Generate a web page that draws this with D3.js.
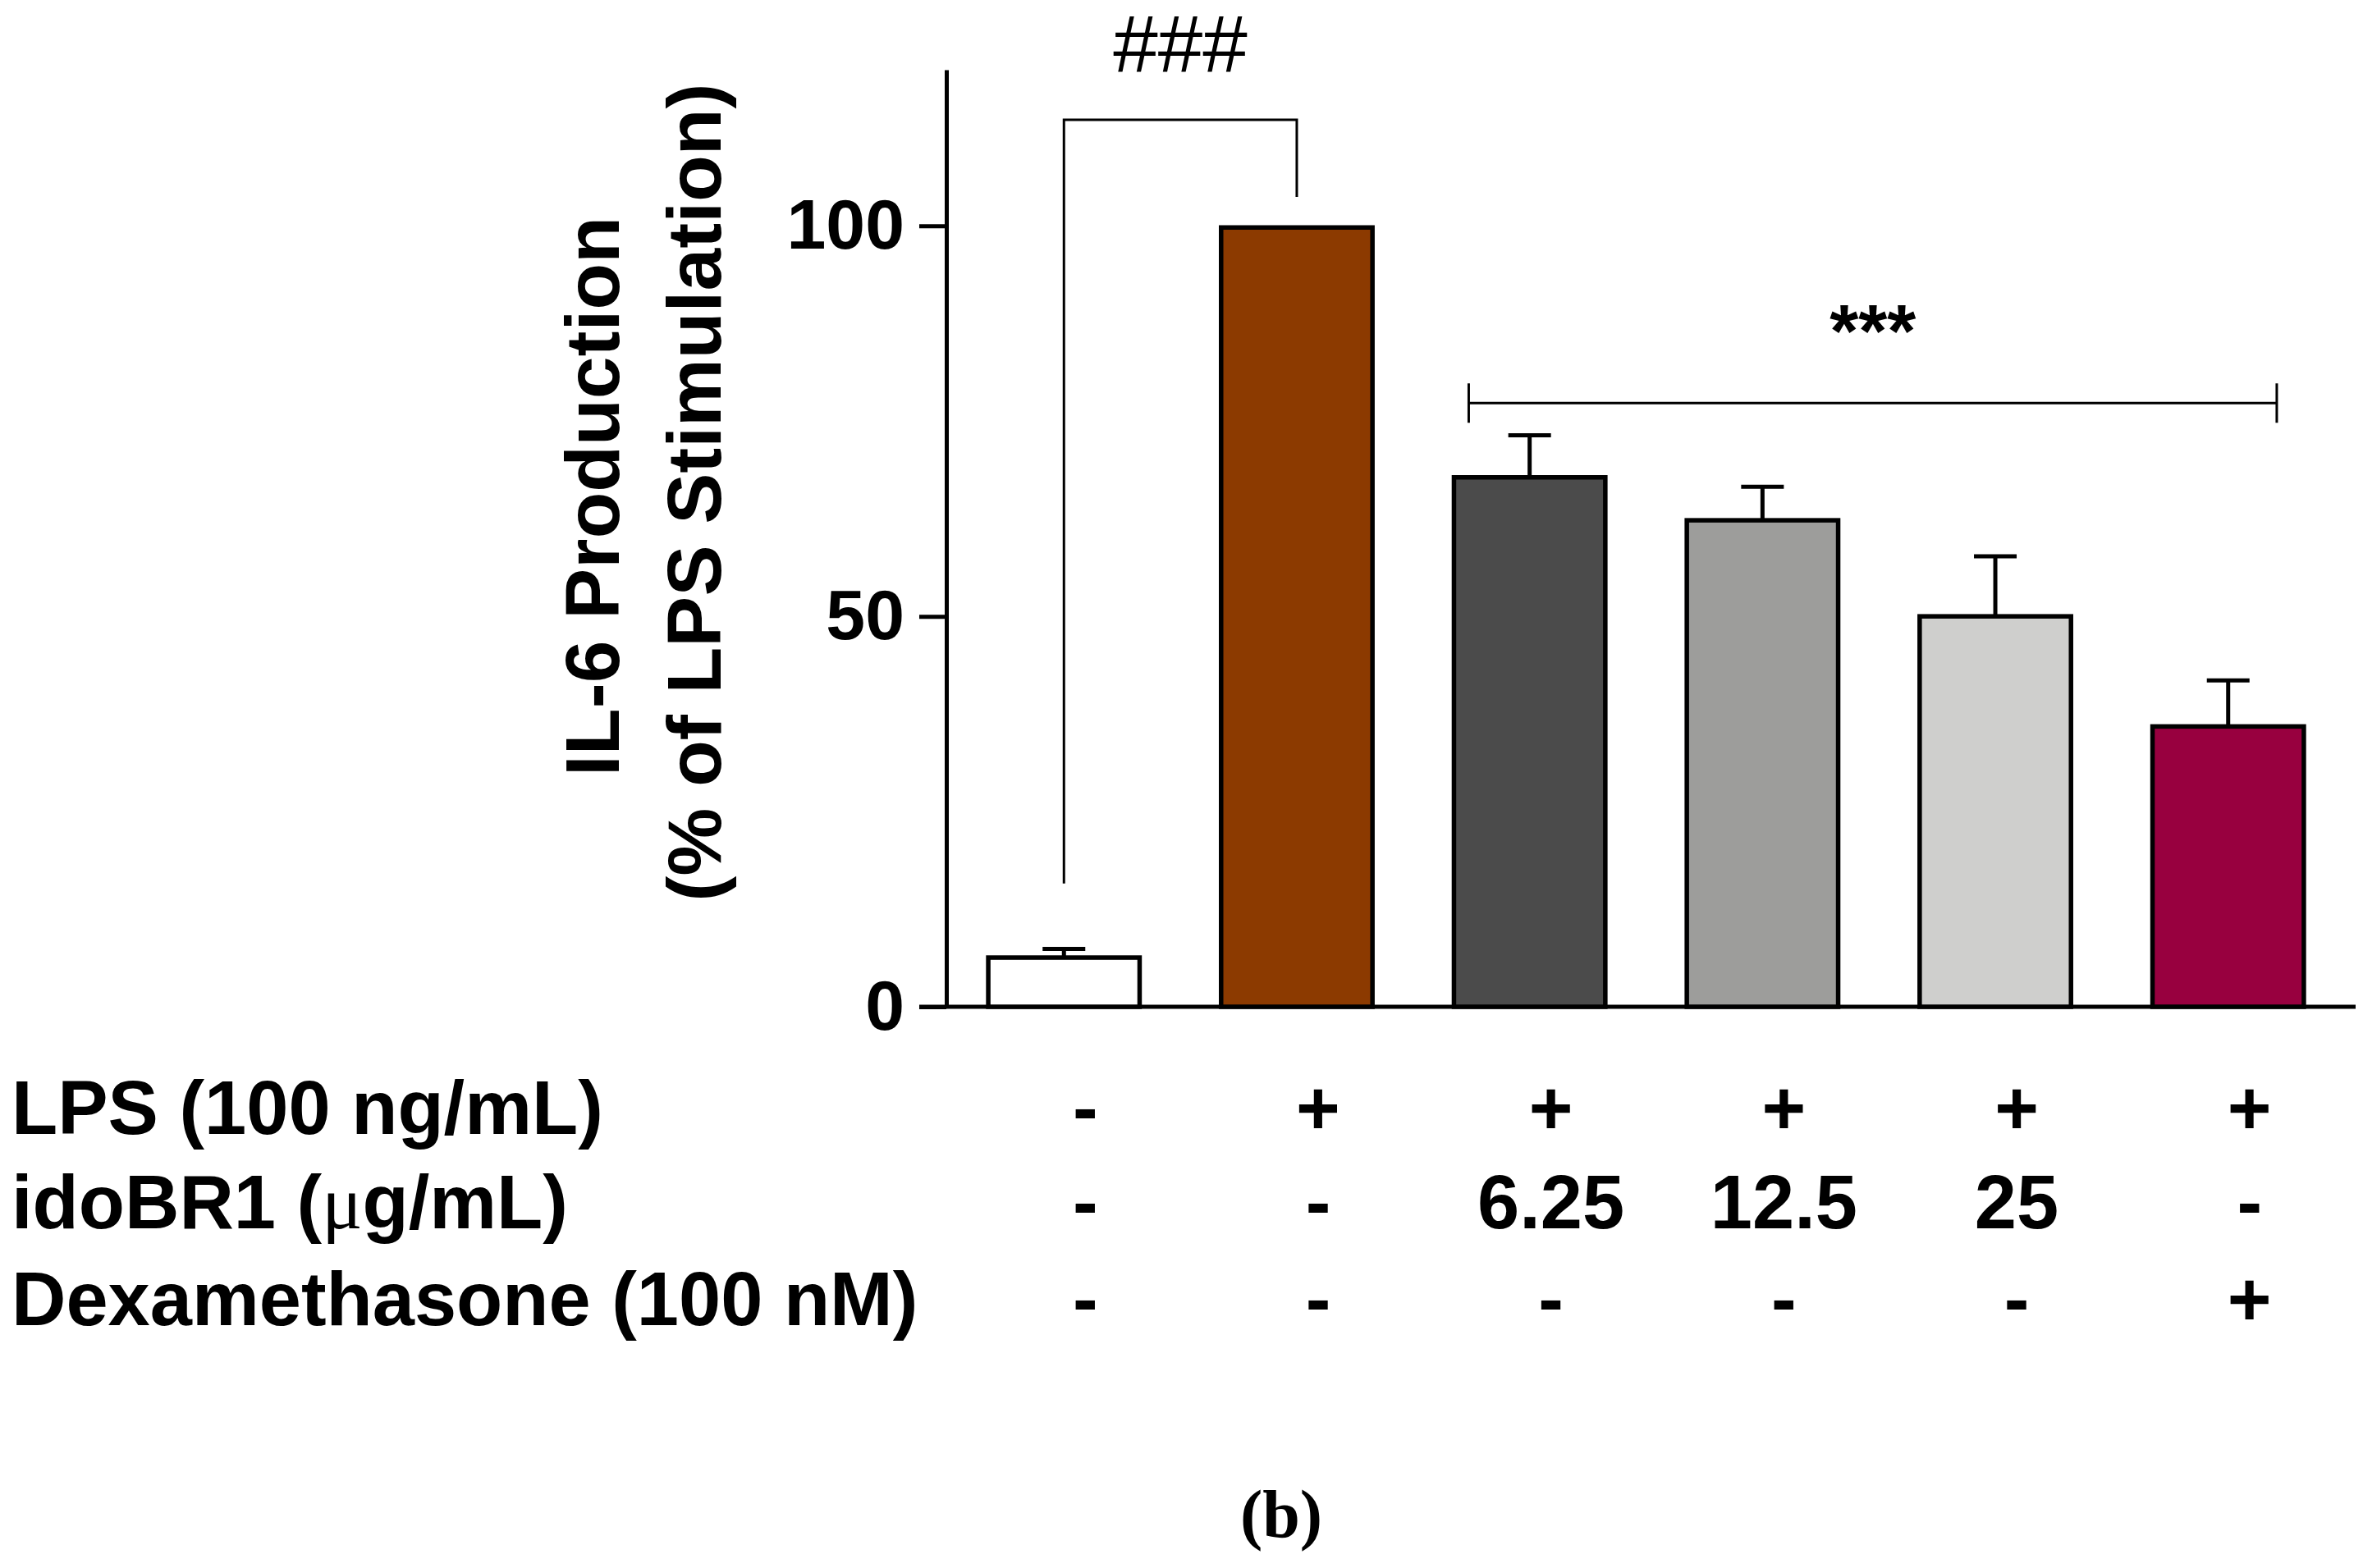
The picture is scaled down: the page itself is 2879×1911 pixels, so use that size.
<!DOCTYPE html>
<html>
<head>
<meta charset="utf-8">
<script src="https://cdn.jsdelivr.net/npm/d3@7"></script>
<style>
  body { margin: 0; background: #fff; }
  text { font-family: "Liberation Sans", Arial, sans-serif; fill: #000; }
</style>
</head>
<body>
<div id="chart"></div>
<script>
// Chart data
var groups = ["Control", "LPS", "idoBR1 6.25", "idoBR1 12.5", "idoBR1 25", "Dexamethasone"];
var values = [6.3, 99.8, 67.8, 62.3, 50.0, 35.9];
var errors = [1.1, 0, 5.4, 4.3, 7.7, 5.9];
var barColors = ["#ffffff", "#8c3a00", "#4b4b4b", "#9d9d9b", "#cfcfcd", "#98003f"];
var yTicks = [0, 50, 100];

// treatment table under the axis
var rowLabels = ["LPS (100 ng/mL)", "idoBR1 (\u03bcg/mL)", "Dexamethasone (100 nM)"];
var lpsRow = ["-", "+", "+", "+", "+", "+"];
var idoRow = ["-", "-", "6.25", "12.5", "25", "-"];
var dexRow = ["-", "-", "-", "-", "-", "+"];

// significance brackets: from group, to group, bracket level, leg ends, label
var brackets = [
    { from: 0, to: 1, level: 113.6, legFrom: 15.8, legTo: 103.7, label: "###" },
    { from: 2, to: 5, level: 77.3, legFrom: null, legTo: null, label: "***" }
];

function drawChart() {
    var W = 2879, H = 1911;
    var svg = d3.select("#chart").append("svg")
        .attr("width", W)
        .attr("height", H);

    svg.append("rect").attr("width", W).attr("height", H).attr("fill", "#fff");

    var x = d3.scaleBand()
        .domain(groups)
        .range([1153, 2858])
        .paddingInner(0.35)
        .paddingOuter(0.18);

    var y = d3.scaleLinear()
        .domain([0, 120])
        .range([1227, 85]);

    var tickLen = 33;

    // Y axis
    var yAxis = svg.append("g")
        .attr("transform", "translate(" + x.range()[0] + ",0)")
        .call(d3.axisLeft(y).tickValues(yTicks).tickSize(tickLen).tickSizeOuter(0).tickPadding(18));
    yAxis.select(".domain").attr("stroke", "#000").attr("stroke-width", 5);
    yAxis.selectAll(".tick line").attr("stroke", "#000").attr("stroke-width", 5);
    yAxis.selectAll(".tick text")
        .style("font-family", "'Liberation Sans', Arial, sans-serif")
        .style("font-weight", "bold")
        .style("font-size", "86px")
        .attr("fill", "#000");

    // X axis line (no ticks)
    svg.append("line")
        .attr("x1", x.range()[0] - tickLen)
        .attr("x2", x.range()[1] + 12)
        .attr("y1", y(0))
        .attr("y2", y(0))
        .attr("stroke", "#000")
        .attr("stroke-width", 5);

    // error bars (upper only), drawn behind bars
    var eb = svg.append("g");
    groups.forEach(function (g, i) {
        if (!errors[i]) return;
        var cx = x(g) + x.bandwidth() / 2;
        eb.append("line")
            .attr("x1", cx).attr("x2", cx)
            .attr("y1", y(values[i])).attr("y2", y(values[i] + errors[i]))
            .attr("stroke", "#000").attr("stroke-width", 5);
        eb.append("line")
            .attr("x1", cx - 26).attr("x2", cx + 26)
            .attr("y1", y(values[i] + errors[i])).attr("y2", y(values[i] + errors[i]))
            .attr("stroke", "#000").attr("stroke-width", 5);
    });

    // bars
    svg.selectAll("rect.bar")
        .data(groups)
        .enter()
        .append("rect")
        .attr("class", "bar")
        .attr("x", function (d) { return x(d); })
        .attr("y", function (d, i) { return y(values[i]); })
        .attr("width", x.bandwidth())
        .attr("height", function (d, i) { return y(0) - y(values[i]); })
        .attr("fill", function (d, i) { return barColors[i]; })
        .attr("stroke", "#000")
        .attr("stroke-width", 5.5);

    // significance brackets
    brackets.forEach(function (b) {
        var x1 = x(groups[b.from]) + x.bandwidth() / 2;
        var x2 = x(groups[b.to]) + x.bandwidth() / 2;
        var yl = y(b.level);
        var path;
        if (b.legFrom !== null) {
            path = "M" + x1 + "," + y(b.legFrom) + "V" + yl + "H" + x2 + "V" + y(b.legTo);
        } else {
            x1 = x(groups[b.from]) + 18;
            x2 = x(groups[b.to]) + x.bandwidth() - 33;
            path = "M" + x1 + "," + yl + "H" + x2 +
                "M" + x1 + "," + (yl - 24) + "V" + (yl + 24) +
                "M" + x2 + "," + (yl - 24) + "V" + (yl + 24);
        }
        svg.append("path")
            .attr("d", path)
            .attr("fill", "none")
            .attr("stroke", "#000")
            .attr("stroke-width", 3);

        var t = svg.append("text")
            .attr("x", (x1 + x2) / 2)
            .attr("text-anchor", "middle")
            .text(b.label);
        if (b.label === "###") {
            t.attr("y", y(b.level) - 58).style("font-size", "98px");
        } else {
            t.attr("y", y(b.level) - 56).style("font-size", "90px").style("font-weight", "bold");
        }
    });

    // Y axis title (two lines)
    svg.append("text")
        .attr("transform", "translate(754,605) rotate(-90)")
        .attr("text-anchor", "middle")
        .style("font-size", "93px")
        .style("font-weight", "bold")
        .text("IL-6 Production");
    svg.append("text")
        .attr("transform", "translate(878,600) rotate(-90)")
        .attr("text-anchor", "middle")
        .style("font-size", "93px")
        .style("font-weight", "bold")
        .text("(% of LPS Stimulation)");

    // treatment table
    var rows = [lpsRow, idoRow, dexRow];
    var rowY = [1382, 1497, 1615];
    rows.forEach(function (row, r) {
        var label = svg.append("text")
            .attr("x", 14)
            .attr("y", rowY[r])
            .style("font-size", "92px")
            .style("font-weight", "bold");
        if (r === 1) {
            label.append("tspan").text("idoBR1 (");
            label.append("tspan")
                .style("font-family", "'Liberation Serif', serif")
                .style("font-weight", "normal")
                .text("\u03bc");
            label.append("tspan").text("g/mL)");
        } else {
            label.text(rowLabels[r]);
        }

        svg.selectAll(null)
            .data(row)
            .enter()
            .append("text")
            .attr("x", function (d, i) { return x(groups[i]) + x.bandwidth() / 2 + 26; })
            .attr("y", rowY[r])
            .attr("text-anchor", "middle")
            .style("font-size", "92px")
            .style("font-weight", "bold")
            .text(function (d) { return d; });
    });

    // panel label
    svg.append("text")
        .attr("x", 1561)
        .attr("y", 1873)
        .attr("text-anchor", "middle")
        .style("font-family", "'Liberation Serif', 'Times New Roman', serif")
        .style("font-weight", "bold")
        .style("font-size", "82px")
        .text("(b)");
}

drawChart();
</script>
</body>
</html>
